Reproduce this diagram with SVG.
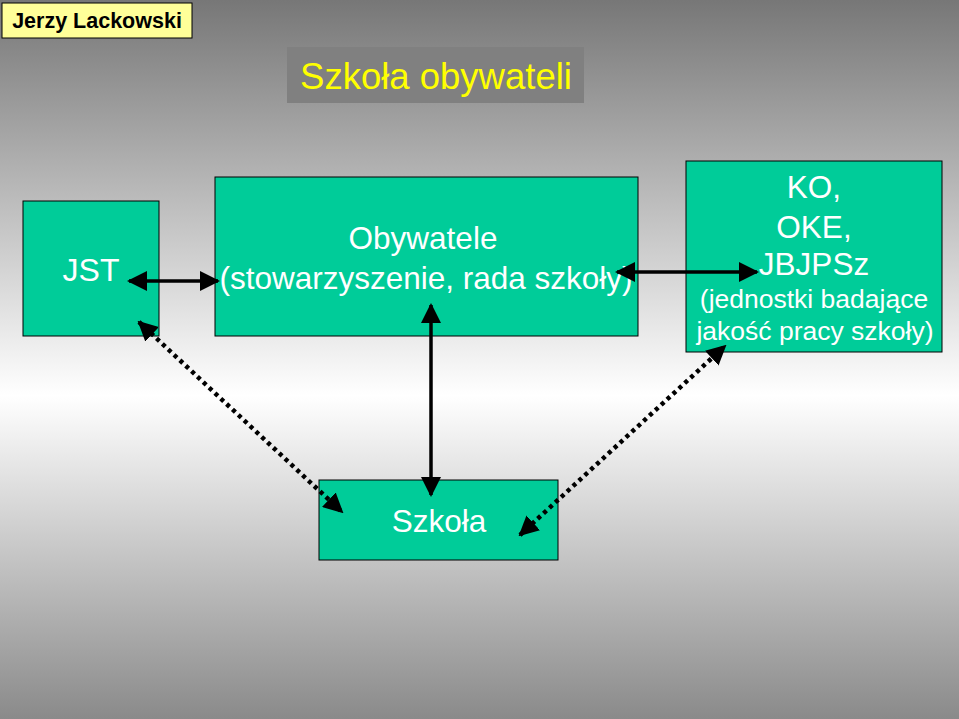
<svg xmlns="http://www.w3.org/2000/svg" width="959" height="719" viewBox="0 0 959 719">
<defs>
<linearGradient id="bg" x1="0" y1="0" x2="0" y2="1">
<stop offset="0" stop-color="#777"/><stop offset="0.55" stop-color="#fff"/><stop offset="1" stop-color="#8a8a8a"/>
</linearGradient>
<marker id="ahb" viewBox="0 0 10 10" refX="9" refY="5" markerWidth="20" markerHeight="20" markerUnits="userSpaceOnUse" orient="auto-start-reverse"><path d="M0,0 L10,5 L0,10 z" fill="#000"/></marker>
</defs>
<style>
.box{fill:#00cc99;stroke:#000;stroke-width:1}
.t{font-family:"Liberation Sans",Arial,sans-serif;fill:#fff;text-anchor:middle}
.c{stroke:#000;stroke-width:3.5;fill:none}
.d{stroke-width:4.5;stroke-dasharray:4 4}
</style>
<rect width="959" height="719" fill="url(#bg)"/>
<g id="author"><rect x="2" y="3" width="190" height="35" fill="#ffff99" stroke="#000"/><text x="97" y="28" font-family="Liberation Sans,Arial,sans-serif" font-weight="bold" font-size="21.5" text-anchor="middle">Jerzy Lackowski</text></g>
<g id="title"><rect x="287" y="47" width="297" height="56" fill="#808080"/><text x="436" y="89" font-family="Liberation Sans,Arial,sans-serif" font-size="36.5" fill="#ffff00" text-anchor="middle">Szkoła obywateli</text></g>
<g id="jst"><rect class="box" x="23" y="201" width="136" height="135"/><text class="t" x="91" y="281" font-size="32">JST</text></g>
<g id="obywatele"><rect class="box" x="215" y="177" width="423" height="159"/><text class="t" x="423" y="249" font-size="31.5">Obywatele</text><text class="t" x="426" y="289" font-size="31.5">(stowarzyszenie, rada szkoły)</text></g>
<g id="ko"><rect class="box" x="686" y="161" width="256" height="191"/><text class="t" x="814" y="198" font-size="31.5">KO,</text><text class="t" x="814" y="238" font-size="31.5">OKE,</text><text class="t" x="814" y="275" font-size="31.5">JBJPSz</text><text class="t" x="814" y="308" font-size="26.5">(jednostki badające</text><text class="t" x="815" y="340" font-size="26.5">jakość pracy szkoły)</text></g>
<g id="szkola"><rect class="box" x="319" y="480" width="239" height="80"/><text class="t" x="439" y="532" font-size="31.5">Szkoła</text></g>
<g id="connectors">
<line class="c" x1="129" y1="281" x2="218" y2="281" marker-start="url(#ahb)" marker-end="url(#ahb)"/>
<line class="c" x1="617" y1="272" x2="757" y2="272" marker-start="url(#ahb)" marker-end="url(#ahb)"/>
<line class="c" x1="431" y1="305" x2="431" y2="495" marker-start="url(#ahb)" marker-end="url(#ahb)"/>
<line class="c d" x1="139" y1="322" x2="342" y2="512" marker-start="url(#ahb)" marker-end="url(#ahb)"/>
<line class="c d" x1="520" y1="535" x2="725" y2="346" marker-start="url(#ahb)" marker-end="url(#ahb)"/>
</g>
</svg>
